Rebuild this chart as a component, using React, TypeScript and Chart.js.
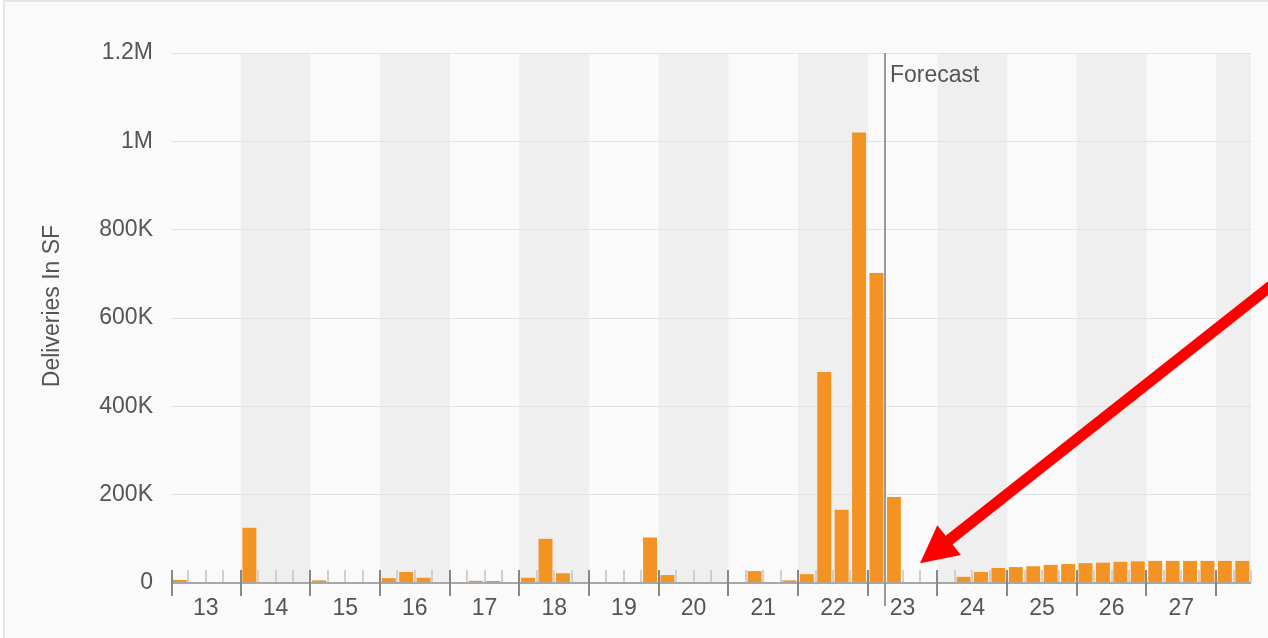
import React, { useEffect, useRef } from "react";
import { Chart, registerables } from "chart.js";

Chart.register(...registerables);

// ---- data ----
const yearLabels = ["13", "14", "15", "16", "17", "18", "19", "20", "21", "22", "23", "24", "25", "26", "27"];
const firstYear = 13;
const quartersShown = 62; // 2013 Q1 .. 2028 Q2

// quarterly deliveries (SF), 2013 Q1 .. 2028 Q2
const deliveries2013 = [7000, 0, 0, 0];
const deliveries2014 = [125000, 0, 0, 0];
const deliveries2015 = [6000, 0, 0, 0];
const deliveries2016 = [11000, 25000, 12000, 0];
const deliveries2017 = [0, 5000, 4500, 0];
const deliveries2018 = [12000, 100000, 22000, 0];
const deliveries2019 = [0, 0, 0, 103000];
const deliveries2020 = [18000, 0, 0, 0];
const deliveries2021 = [0, 27000, 0, 6000];
const deliveries2022 = [20000, 478000, 166000, 1020000];
const deliveries2023 = [702000, 195000, 0, 0];
const deliveries2024 = [0, 14000, 25000, 34000];
const deliveries2025 = [36000, 38000, 41000, 43000];
const deliveries2026 = [45000, 46000, 48000, 49000];
const deliveries2027 = [50000, 50000, 50000, 50000];
const deliveries2028 = [50000, 50000];

const deliveries = [
  ...deliveries2013, ...deliveries2014, ...deliveries2015, ...deliveries2016,
  ...deliveries2017, ...deliveries2018, ...deliveries2019, ...deliveries2020,
  ...deliveries2021, ...deliveries2022, ...deliveries2023, ...deliveries2024,
  ...deliveries2025, ...deliveries2026, ...deliveries2027, ...deliveries2028,
];

const yTickValues = [0, 200000, 400000, 600000, 800000, 1000000, 1200000];
const yTickLabels = ["0", "200K", "400K", "600K", "800K", "1M", "1.2M"];
const yAxisTitle = "Deliveries In SF";
const forecastStartQuarter = 41; // forecast begins with 2023 Q2
const forecastLabel = "Forecast";
const arrowTarget = { quarter: 43, value: 45000 }; // annotation arrow points at 2023 Q3/Q4

const FONT = '"Liberation Sans", Arial, Helvetica, sans-serif';
const TEXT = "#555555";
const BAR = "rgb(243,147,36)";
const FSIZE = 23;

const decorPlugin = {
  id: "decor",
  beforeDraw(chart: any) {
    const { ctx, chartArea, scales } = chart;
    const x = scales.x;
    const { top, bottom, right } = chartArea;
    ctx.save();
    ctx.fillStyle = "#efefef";
    const nYears = Math.ceil(quartersShown / 4);
    for (let i = 0; i < nYears; i++) {
      if ((firstYear + i) % 2 === 0) {
        const x0 = x.getPixelForValue(i * 4);
        const x1 = Math.min(x.getPixelForValue(i * 4 + 4), right);
        ctx.fillRect(x0, top, x1 - x0, bottom - top);
      }
    }
    ctx.restore();
  },
  beforeDatasetsDraw(chart: any) {
    const { ctx, chartArea, scales } = chart;
    const x = scales.x;
    const { bottom } = chartArea;
    ctx.save();
    ctx.strokeStyle = "#d0d0d0";
    ctx.lineWidth = 2;
    for (let q = 1; q <= quartersShown; q++) {
      if (q % 4 === 0) continue;
      const px = Math.round(x.getPixelForValue(q));
      ctx.beginPath();
      ctx.moveTo(px, bottom - 13);
      ctx.lineTo(px, bottom);
      ctx.stroke();
    }
    ctx.restore();
  },
  afterDatasetsDraw(chart: any) {
    const { ctx, chartArea, scales } = chart;
    const x = scales.x;
    const { top, bottom, left, right } = chartArea;
    ctx.save();
    // axis line
    ctx.strokeStyle = "#a8a8a8";
    ctx.lineWidth = 2;
    ctx.beginPath();
    ctx.moveTo(left, bottom);
    ctx.lineTo(right, bottom);
    ctx.stroke();
    // major ticks
    ctx.strokeStyle = "#888888";
    ctx.lineWidth = 2;
    for (let q = 0; q < quartersShown; q += 4) {
      const px = Math.round(x.getPixelForValue(q)) + (q === 0 ? 1 : 0);
      ctx.beginPath();
      ctx.moveTo(px, bottom - 13);
      ctx.lineTo(px, bottom + 13);
      ctx.stroke();
    }
    // forecast line
    const fx = Math.round(x.getPixelForValue(forecastStartQuarter));
    ctx.strokeStyle = "#999999";
    ctx.lineWidth = 2;
    ctx.beginPath();
    ctx.moveTo(fx, top);
    ctx.lineTo(fx, bottom + 23);
    ctx.stroke();
    ctx.fillStyle = TEXT;
    ctx.font = `${FSIZE}px ${FONT}`;
    ctx.textAlign = "left";
    ctx.textBaseline = "alphabetic";
    ctx.fillText(forecastLabel, fx + 5, top + 29);

    // y axis title
    ctx.save();
    ctx.translate(53, (top + bottom) / 2 - 12);
    ctx.rotate(-Math.PI / 2);
    ctx.textAlign = "center";
    ctx.textBaseline = "middle";
    ctx.font = `${FSIZE}px ${FONT}`;
    ctx.fillStyle = TEXT;
    ctx.fillText(yAxisTitle, 0, 0);
    ctx.restore();
    ctx.restore();
  },
  afterDraw(chart: any) {
    const { ctx, scales } = chart;
    const tx = scales.x.getPixelForValue(arrowTarget.quarter);
    const ty = scales.y.getPixelForValue(arrowTarget.value);
    const dx = 0.785, dy = -0.62; // direction from tip back along the shaft
    const headLen = 37, headHalf = 19;
    const bx = tx + dx * headLen, by = ty + dy * headLen;
    ctx.save();
    ctx.strokeStyle = "#ff0000";
    ctx.fillStyle = "#ff0000";
    ctx.lineWidth = 11;
    ctx.beginPath();
    ctx.moveTo(bx - dx * 4, by - dy * 4);
    ctx.lineTo(tx + dx * 600, ty + dy * 600);
    ctx.stroke();
    ctx.beginPath();
    ctx.moveTo(tx, ty);
    ctx.lineTo(bx - dy * headHalf, by + dx * headHalf);
    ctx.lineTo(bx + dy * headHalf, by - dx * headHalf);
    ctx.closePath();
    ctx.fill();
    ctx.restore();
  },
};

export default function App() {
  const canvasRef = useRef<HTMLCanvasElement | null>(null);

  useEffect(() => {
    if (!canvasRef.current) return;
    const chart = new Chart(canvasRef.current, {
      type: "bar",
      data: {
        datasets: [
          {
            label: yAxisTitle,
            data: deliveries.map((v, i) => ({ x: i + 0.5, y: v })),
            backgroundColor: BAR,
            borderWidth: 0,
            barPercentage: 0.8,
            categoryPercentage: 1,
          },
        ],
      },
      options: {
        responsive: false,
        animation: false,
        devicePixelRatio: 1,
        layout: { padding: { top: 53, right: 17, left: 0, bottom: 0 } },
        plugins: { legend: { display: false }, tooltip: { enabled: false } },
        scales: {
          x: {
            type: "linear",
            min: 0,
            max: quartersShown,
            offset: false,
            grid: { display: false, offset: false },
            border: { display: false },
            afterBuildTicks: (s: any) => {
              s.ticks = yearLabels.map((_, i) => ({ value: i * 4 + 2 }));
            },
            afterFit: (s: any) => {
              s.height = 55;
            },
            ticks: {
              autoSkip: false,
              maxRotation: 0,
              minRotation: 0,
              padding: 4,
              color: TEXT,
              font: { family: FONT, size: FSIZE },
              callback: (v: any) => yearLabels[Math.round((Number(v) - 2) / 4)] ?? "",
            },
          },
          y: {
            min: 0,
            max: 1200000,
            grid: { color: "#e3e3e3", lineWidth: 1, drawTicks: false },
            border: { display: false },
            afterBuildTicks: (s: any) => {
              s.ticks = yTickValues.map((v) => ({ value: v }));
            },
            afterFit: (s: any) => {
              s.width = 171;
            },
            ticks: {
              padding: 18,
              color: TEXT,
              font: { family: FONT, size: FSIZE },
              callback: (v: any) => {
                const i = yTickValues.indexOf(Number(v));
                return i >= 0 ? yTickLabels[i] : "";
              },
            },
          },
        },
      },
      plugins: [decorPlugin],
    } as any);
    return () => chart.destroy();
  }, []);

  return (
    <div style={{ position: "fixed", left: 0, top: 0, width: 1268, height: 638, overflow: "hidden", background: "#ffffff" }}>
      <div
        style={{
          position: "absolute",
          left: 3,
          top: 0,
          width: 1400,
          height: 800,
          borderLeft: "2px solid #e6e6e6",
          borderTop: "2px solid #e6e6e6",
          background: "#fafafa",
        }}
      />
      <canvas ref={canvasRef} width={1268} height={638} style={{ position: "absolute", left: 0, top: 0 }} />
    </div>
  );
}
